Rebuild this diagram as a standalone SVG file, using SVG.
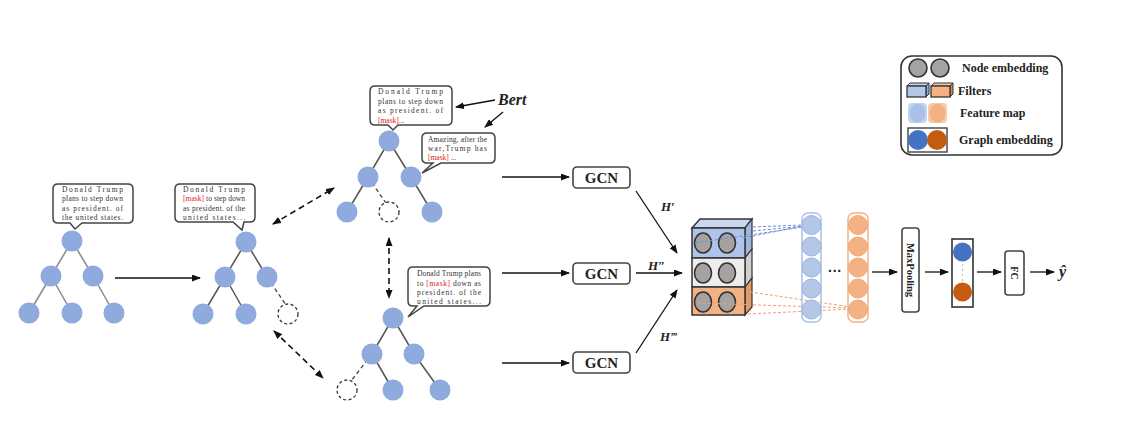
<svg xmlns="http://www.w3.org/2000/svg" width="1121" height="435" viewBox="0 0 1121 435">
<defs>
<marker id="ah" markerUnits="userSpaceOnUse" markerWidth="9" markerHeight="7" refX="8" refY="3.5" orient="auto-start-reverse"><path d="M0,0 L9,3.5 L0,7 z" fill="#111"/></marker>
<style>
.node{fill:#8faadc}
.edge{stroke:#555;stroke-width:1.5}
.ledge{stroke:#8a8a8a;stroke-width:1.5}
.dedge{stroke:#444;stroke-width:1.3;stroke-dasharray:4,3}
.dnode{fill:#fff;stroke:#333;stroke-width:1.3;stroke-dasharray:3,2.5}
.bub{fill:#fff;stroke:#444;stroke-width:1.5}
.bt{font-family:"Liberation Serif",serif;font-size:7.5px;fill:#333}
.red{fill:#e02020}
.arr{stroke:#111;stroke-width:1.3;fill:none;marker-end:url(#ah)}
.darr{stroke:#111;stroke-width:1.6;fill:none;stroke-dasharray:6,4;marker-end:url(#ah);marker-start:url(#ah)}
.box{fill:#fff;stroke:#444;stroke-width:1.6}
.gcn{font-family:"Liberation Serif",serif;font-size:15px;font-weight:bold;fill:#222;text-anchor:middle}
.hl{font-family:"Liberation Serif",serif;font-size:13px;font-weight:bold;font-style:italic;fill:#222}
.cc{fill:#a5a2a2;stroke:#333;stroke-width:1.6}
.lg{font-family:"Liberation Serif",serif;font-size:12px;font-weight:bold;fill:#222}
.bdash{stroke:#6f8fd0;stroke-width:1;stroke-dasharray:3,2}
.odash{stroke:#f0a070;stroke-width:1;stroke-dasharray:3,2}
</style>
</defs>
<rect width="1121" height="435" fill="#fff"/>

<g id="connectors">
<line class="arr" x1="115" y1="278" x2="200" y2="278"/>
<line class="darr" x1="273" y1="224" x2="334" y2="188"/>
<line class="darr" x1="389" y1="238" x2="389" y2="298"/>
<line class="darr" x1="274" y1="331" x2="323" y2="378"/>
<line class="arr" x1="495" y1="100" x2="456" y2="107"/>
<line class="arr" x1="503" y1="112" x2="485" y2="127"/>
<line class="arr" x1="502" y1="177" x2="569" y2="177"/>
<line class="arr" x1="502" y1="273" x2="569" y2="273"/>
<line class="arr" x1="502" y1="363" x2="569" y2="363"/>
<line class="arr" x1="636" y1="191" x2="677" y2="253"/>
<line class="arr" x1="636" y1="273" x2="682" y2="273"/>
<line class="arr" x1="636" y1="353" x2="677" y2="290"/>
<line class="arr" x1="872" y1="272" x2="897" y2="272"/>
<line class="arr" x1="925" y1="272" x2="948" y2="272"/>
<line class="arr" x1="977" y1="272" x2="1001" y2="272"/>
<line class="arr" x1="1030" y1="272" x2="1054" y2="272"/>
</g>

<g id="tree1">
<line class="ledge" x1="72" y1="241" x2="51" y2="276"/>
<line class="ledge" x1="72" y1="241" x2="93" y2="276"/>
<line class="ledge" x1="51" y1="276" x2="29" y2="313"/>
<line class="ledge" x1="51" y1="276" x2="72" y2="313"/>
<line class="ledge" x1="93" y1="276" x2="114" y2="313"/>
<circle class="node" cx="72" cy="241" r="10.5"/>
<circle class="node" cx="51" cy="276" r="10.5"/>
<circle class="node" cx="93" cy="276" r="10.5"/>
<circle class="node" cx="29" cy="313" r="10.5"/>
<circle class="node" cx="72" cy="313" r="10.5"/>
<circle class="node" cx="114" cy="313" r="10.5"/>
<path class="bub" d="M58,184 H128 Q133,184 133,189 V218 Q133,223 128,223 H82 L75,229 L70,223 H58 Q53,223 53,218 V189 Q53,184 58,184 Z"/>
<text class="bt" x="62" y="191.5" textLength="61" lengthAdjust="spacing">Donald Trump</text>
<text class="bt" x="62" y="201" textLength="61" lengthAdjust="spacing">plans to step down</text>
<text class="bt" x="62" y="210.5" textLength="61" lengthAdjust="spacing">as president. of</text>
<text class="bt" x="62" y="220" textLength="61" lengthAdjust="spacing">the united states.</text>
</g>

<g id="tree2">
<line class="edge" x1="246" y1="242" x2="225" y2="277"/>
<line class="edge" x1="246" y1="242" x2="267" y2="277"/>
<line class="edge" x1="225" y1="277" x2="203" y2="314"/>
<line class="edge" x1="225" y1="277" x2="246" y2="314"/>
<line class="dedge" x1="267" y1="277" x2="286" y2="305"/>
<circle class="node" cx="246" cy="242" r="10.5"/>
<circle class="node" cx="225" cy="277" r="10.5"/>
<circle class="node" cx="267" cy="277" r="10.5"/>
<circle class="node" cx="203" cy="314" r="10.5"/>
<circle class="node" cx="246" cy="314" r="10.5"/>
<circle class="dnode" cx="288" cy="314" r="10"/>
<path class="bub" d="M180,184 H250 Q255,184 255,189 V217 Q255,222 250,222 H244 L242,230 L233,222 H180 Q175,222 175,217 V189 Q175,184 180,184 Z"/>
<text class="bt" x="183" y="191.5" textLength="62" lengthAdjust="spacing">Donald Trump</text>
<text class="bt" x="183" y="201" textLength="62" lengthAdjust="spacing"><tspan class="red">[mask]</tspan> to step down</text>
<text class="bt" x="183" y="210.5" textLength="62" lengthAdjust="spacing">as president. of the</text>
<text class="bt" x="183" y="220" textLength="62" lengthAdjust="spacing">united states...</text>
</g>

<g id="tree3">
<line class="edge" x1="389" y1="141" x2="368" y2="177"/>
<line class="edge" x1="389" y1="141" x2="411" y2="177"/>
<line class="edge" x1="368" y1="177" x2="347" y2="212"/>
<line class="dedge" x1="368" y1="177" x2="386" y2="203"/>
<line class="edge" x1="411" y1="177" x2="432" y2="212"/>
<circle class="node" cx="389" cy="141" r="10.5"/>
<circle class="node" cx="368" cy="177" r="10.5"/>
<circle class="node" cx="411" cy="177" r="10.5"/>
<circle class="node" cx="347" cy="212" r="10.5"/>
<circle class="dnode" cx="389" cy="212" r="10"/>
<circle class="node" cx="432" cy="212" r="10.5"/>
<path class="bub" d="M375,86 H447 Q452,86 452,91 V120 Q452,125 447,125 H398 L393,130 L388,125 H375 Q370,125 370,120 V91 Q370,86 375,86 Z"/>
<text class="bt" x="378" y="94" textLength="65" lengthAdjust="spacing">Donald Trump</text>
<text class="bt" x="378" y="103.5" textLength="65" lengthAdjust="spacing">plans to step down</text>
<text class="bt" x="378" y="113" textLength="65" lengthAdjust="spacing">as president. of</text>
<text class="bt" x="378" y="122.5"><tspan class="red">[mask]</tspan>...</text>
<path class="bub" d="M427,133 H490 Q495,133 495,138 V158 Q495,163 490,163 H441 L422,173 L433,163 H427 Q422,163 422,158 V138 Q422,133 427,133 Z"/>
<text class="bt" x="428" y="141.5" textLength="59" lengthAdjust="spacing">Amazing, after the</text>
<text class="bt" x="428" y="150.5" textLength="59" lengthAdjust="spacing">war,Trump has</text>
<text class="bt" x="428" y="159.5"><tspan class="red">[mask]</tspan> ...</text>
<text x="498" y="105" style="font-family:'Liberation Serif',serif;font-size:16px;font-weight:bold;font-style:italic;fill:#222">Bert</text>
</g>

<g id="tree4">
<line class="edge" x1="393" y1="318" x2="372" y2="354"/>
<line class="edge" x1="393" y1="318" x2="414" y2="354"/>
<line class="dedge" x1="372" y1="354" x2="351" y2="381"/>
<line class="edge" x1="372" y1="354" x2="393" y2="390"/>
<line class="edge" x1="414" y1="354" x2="440" y2="390"/>
<circle class="node" cx="393" cy="318" r="10.5"/>
<circle class="node" cx="372" cy="354" r="10.5"/>
<circle class="node" cx="414" cy="354" r="10.5"/>
<circle class="dnode" cx="347" cy="390" r="10"/>
<circle class="node" cx="393" cy="390" r="10.5"/>
<circle class="node" cx="440" cy="390" r="10.5"/>
<path class="bub" d="M413,267 H485 Q490,267 490,272 V301 Q490,306 485,306 H424 L408,317 L417,306 H413 Q408,306 408,301 V272 Q408,267 413,267 Z"/>
<text class="bt" x="417" y="276" textLength="64" lengthAdjust="spacing">Donald Trump plans</text>
<text class="bt" x="417" y="285.5" textLength="64" lengthAdjust="spacing">to <tspan class="red">[mask]</tspan> down as</text>
<text class="bt" x="417" y="295" textLength="64" lengthAdjust="spacing">president. of the</text>
<text class="bt" x="417" y="304" textLength="64" lengthAdjust="spacing">united states...</text>
</g>

<g id="gcn1"><rect class="box" x="573" y="167" width="57" height="21" rx="4"/><text class="gcn" x="601.5" y="183">GCN</text></g>
<g id="gcn2"><rect class="box" x="573" y="263" width="57" height="21" rx="4"/><text class="gcn" x="601.5" y="279">GCN</text></g>
<g id="gcn3"><rect class="box" x="573" y="352" width="57" height="21" rx="4"/><text class="gcn" x="601.5" y="368">GCN</text></g>
<g id="labels">
<text class="hl" x="661" y="211">H′</text>
<text class="hl" x="648" y="270">H″</text>
<text class="hl" x="660" y="341">H‴</text>
</g>

<g id="cube">
<polygon points="692,228 700,219 752,219 745,228" fill="#c9d7ef" stroke="#333" stroke-width="1.5"/>
<polygon points="745,228 752,219 752,249 745,258" fill="#9fb6de" stroke="#333" stroke-width="1.2"/>
<polygon points="745,258 752,249 752,278 745,287" fill="#cfcfcf" stroke="#333" stroke-width="1.2"/>
<polygon points="745,287 752,278 752,307 745,315" fill="#e29a66" stroke="#333" stroke-width="1.2"/>
<rect x="692" y="228" width="53" height="30" fill="#aec4e9" stroke="#333" stroke-width="1.5"/>
<rect x="692" y="258" width="53" height="29" fill="#ededed" stroke="#333" stroke-width="1.5"/>
<rect x="692" y="287" width="53" height="28" fill="#f4b183" stroke="#333" stroke-width="1.5"/>
<ellipse class="cc" cx="703" cy="243" rx="8.5" ry="10"/>
<ellipse class="cc" cx="727" cy="243" rx="8.5" ry="10"/>
<ellipse class="cc" cx="703" cy="273" rx="8.5" ry="10"/>
<ellipse class="cc" cx="727" cy="273" rx="8.5" ry="10"/>
<ellipse class="cc" cx="703" cy="302" rx="8.5" ry="10"/>
<ellipse class="cc" cx="727" cy="302" rx="8.5" ry="10"/>
<line class="bdash" x1="753" y1="227" x2="803" y2="225"/>
<line class="bdash" x1="753" y1="231" x2="803" y2="226"/>
<line class="bdash" x1="743" y1="238" x2="803" y2="226"/>
<line class="bdash" x1="695" y1="243" x2="803" y2="227"/>
<line class="odash" x1="750" y1="292" x2="851" y2="307"/>
<line class="odash" x1="698" y1="303" x2="851" y2="308"/>
<line class="odash" x1="748" y1="314" x2="851" y2="309"/>
</g>

<g id="featuremap-blue">
<rect x="802" y="213" width="19" height="109" rx="6" fill="none" stroke="#a9c0e8" stroke-width="1.5"/>
<g fill="#b4c7e7" stroke="#9ab3de" stroke-width="1">
<circle cx="811.5" cy="225" r="9.5"/>
<circle cx="811.5" cy="246.5" r="9.5"/>
<circle cx="811.5" cy="267.5" r="9.5"/>
<circle cx="811.5" cy="288.5" r="9.5"/>
<circle cx="811.5" cy="309.5" r="9.5"/>
</g>
</g>
<text x="835" y="276" text-anchor="middle" style="font-family:'Liberation Sans',sans-serif;font-size:14px;font-weight:bold;fill:#222">···</text>
<g id="featuremap-orange">
<rect x="848" y="213" width="20" height="109" rx="6" fill="none" stroke="#f4b183" stroke-width="1.5"/>
<g fill="#f4b183" stroke="#f0a878" stroke-width="1">
<circle cx="858" cy="225" r="9.5"/>
<circle cx="858" cy="246.5" r="9.5"/>
<circle cx="858" cy="267.5" r="9.5"/>
<circle cx="858" cy="288.5" r="9.5"/>
<circle cx="858" cy="309.5" r="9.5"/>
</g>
</g>

<g id="maxpooling">
<rect class="box" x="902" y="228" width="17" height="84" rx="3"/>
<text transform="translate(910.5,270) rotate(90)" text-anchor="middle" y="3.5" style="font-family:'Liberation Serif',serif;font-size:10.5px;font-weight:bold;fill:#222">MaxPooling</text>
</g>
<g id="graph-embedding">
<rect x="952" y="239" width="21" height="68" fill="#fff" stroke="#333" stroke-width="1.6"/>
<circle cx="962.5" cy="252" r="9.5" fill="#4472c4"/>
<circle cx="962.5" cy="292" r="9.5" fill="#c55a11"/>
<g fill="#999"><circle cx="962.5" cy="265" r="0.7"/><circle cx="962.5" cy="270" r="0.7"/><circle cx="962.5" cy="275" r="0.7"/><circle cx="962.5" cy="280" r="0.7"/></g>
</g>
<g id="fc">
<rect class="box" x="1005" y="251" width="19" height="44" rx="3"/>
<text transform="translate(1014.5,273) rotate(90)" text-anchor="middle" y="3.5" style="font-family:'Liberation Serif',serif;font-size:10px;font-weight:bold;fill:#222">FC</text>
</g>
<g id="output"><text x="1059" y="277" style="font-family:'Liberation Serif',serif;font-size:16px;font-weight:bold;font-style:italic;fill:#222">ŷ</text></g>

<g id="legend">
<rect x="901" y="56" width="161" height="99" rx="11" fill="#fff" stroke="#333" stroke-width="1.6"/>
<circle class="cc" cx="918" cy="68" r="9"/>
<circle class="cc" cx="940" cy="68" r="9"/>
<text class="lg" x="962" y="72">Node embedding</text>
<polygon points="907,86 910,83 929,83 926,86" fill="#c9d7ef" stroke="#333" stroke-width="1"/>
<polygon points="926,86 929,83 929,94 926,97" fill="#8fa9d8" stroke="#333" stroke-width="1"/>
<rect x="907" y="86" width="19" height="11" fill="#b4c7e7" stroke="#333" stroke-width="1.3"/>
<polygon points="931,86 934,83 953,83 950,86" fill="#f8cbad" stroke="#333" stroke-width="1"/>
<polygon points="950,86 953,83 953,94 950,97" fill="#d88a55" stroke="#333" stroke-width="1"/>
<rect x="931" y="86" width="19" height="11" fill="#f4b183" stroke="#333" stroke-width="1.3"/>
<text class="lg" x="958" y="95">Filters</text>
<rect x="908" y="103" width="19" height="20" rx="4" fill="#c5d5ef"/>
<ellipse cx="917.5" cy="113" rx="8" ry="9.5" fill="#a9c1e8"/>
<rect x="928" y="103" width="19" height="20" rx="4" fill="#f8cbad"/>
<ellipse cx="937.5" cy="113" rx="8" ry="9.5" fill="#f4b183"/>
<text class="lg" x="960" y="117">Feature map</text>
<rect x="908" y="128" width="39" height="24" fill="#fff" stroke="#333" stroke-width="1.3"/>
<circle cx="918" cy="140" r="10" fill="#4472c4"/>
<circle cx="937" cy="140" r="10" fill="#c55a11"/>
<text class="lg" x="959" y="144">Graph embedding</text>
</g>
</svg>
